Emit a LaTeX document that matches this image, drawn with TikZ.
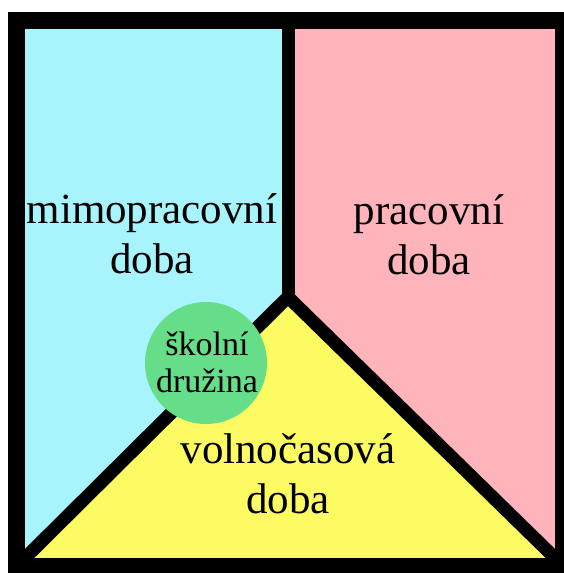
\documentclass[tikz,border=0pt]{standalone}
\usepackage{fontspec}
\setmainfont{Liberation Serif}
\usetikzlibrary{calc}
\definecolor{mimoclr}{HTML}{A8F4FC}
\definecolor{pracclr}{HTML}{FFB3BA}
\definecolor{volnclr}{HTML}{FCFC62}
\definecolor{druzclr}{HTML}{66DD88}
\tikzset{
  bigtxt/.style={align=center, inner sep=0pt, font=\fontsize{43}{50}\selectfont},
  divider/.style={draw=black, line width=13pt, line join=miter},
}
\begin{document}
\begin{tikzpicture}[x=1pt, y=-1pt]
\useasboundingbox (0,0) rectangle (563,573);
% inner corners and the meeting point
\coordinate (tl) at (25,29);
\coordinate (tm) at (288,29);
\coordinate (tr) at (555,29);
\coordinate (br) at (555,558);
\coordinate (bl) at (25,558);
\coordinate (jn) at (288,297);
% areas
\fill[mimoclr] (tl) -- (tm) -- (jn) -- (bl) -- cycle;
\fill[pracclr] (tm) -- (tr) -- (br) -- (jn) -- cycle;
\fill[volnclr] (jn) -- (br) -- (bl) -- cycle;
% dividers
\draw[divider] (tm) -- (jn);
\draw[divider] (bl) -- (jn) -- (br);
\draw[line width=17pt] (16.5,20) rectangle (563.5,566.5);
% texts (base = last line)
\node[bigtxt, anchor=base] (mimo) at (152,273) {mimopracovní\\doba};
\node[bigtxt, anchor=base] (prac) at (429,274) {pracovní\\doba};
\node[bigtxt, anchor=base] (voln) at (288,513) {volnočasová\\doba};
\node[circle, fill=druzclr, minimum size=122pt, inner sep=0pt] (druzkruh) at (206,363) {};
\node[align=center, inner sep=0pt, anchor=base, font=\fontsize{34}{37}\selectfont]
  (druz) at (207,392) {školní\\družina};
\end{tikzpicture}
\end{document}
